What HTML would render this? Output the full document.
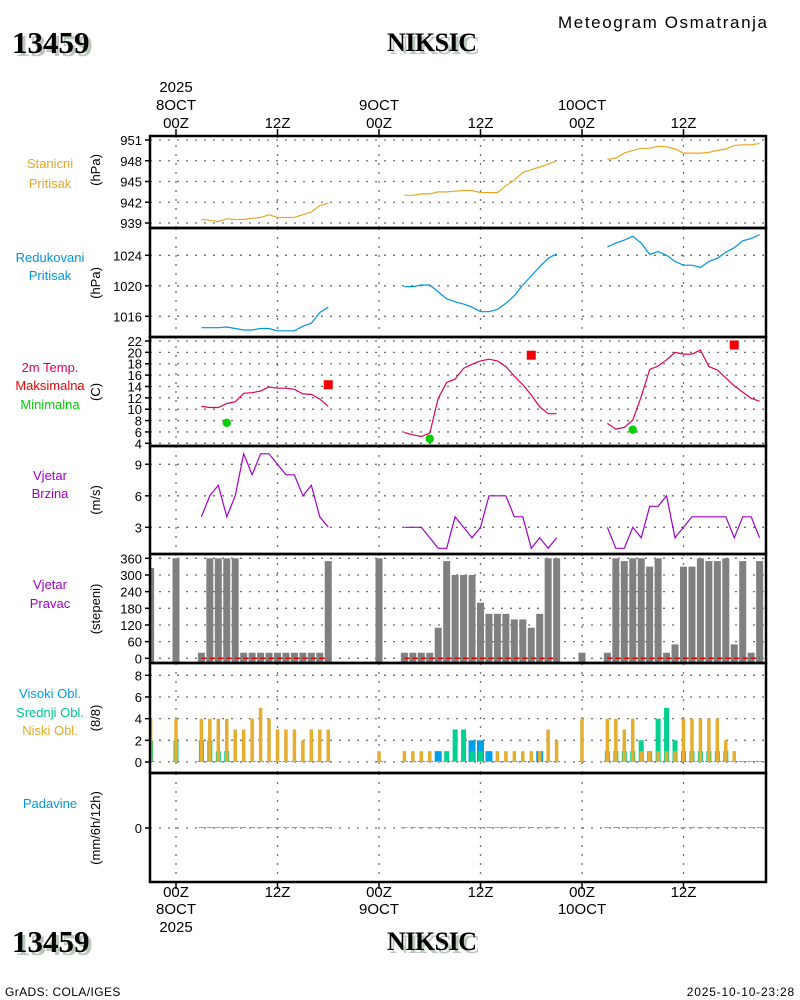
<!DOCTYPE html>
<html><head><meta charset="utf-8"><title>Meteogram NIKSIC</title>
<style>
body{margin:0;background:#fff;}
#wrap{position:relative;width:800px;height:1000px;overflow:hidden;background:#fff;font-family:"Liberation Sans",sans-serif;}
.t{position:absolute;white-space:nowrap;}
.big{font-family:"Liberation Serif",serif;font-weight:bold;font-size:27px;color:#000;text-shadow:3px 3px 0 #b9c8b9;}
</style></head><body>
<div id="wrap">
<div class="t" style="left:558px;top:13px;font-size:17px;letter-spacing:1.6px;">Meteogram Osmatranja</div>
<div class="t big" style="left:12px;top:25px;font-size:31px;">13459</div>
<div class="t big" style="left:387px;top:28px;font-size:26px;letter-spacing:-0.5px;">NIKSIC</div>
<div class="t big" style="left:12px;top:924px;font-size:31px;">13459</div>
<div class="t big" style="left:387px;top:927px;font-size:26px;letter-spacing:-0.5px;">NIKSIC</div>
<div class="t" style="left:5px;top:985px;font-size:12px;letter-spacing:0.4px;">GrADS: COLA/IGES</div>
<div class="t" style="right:5px;top:985px;font-size:12px;letter-spacing:0.8px;">2025-10-10-23:28</div>
<svg id="chart" width="800" height="1000" style="position:absolute;left:0;top:0;" xmlns="http://www.w3.org/2000/svg"></svg>
</div>
<script>
const N = null;
const hourStart = -3;
const stnPressure = [N,N,N,N,N,N,
 939.5,939.4,939.2,939.6,939.5,939.5,939.7,939.8,940.2,939.8,939.8,939.8,940.2,940.6,941.5,941.9,
 N,N,N,N,N,N,N,N,
 943.0,943.0,943.2,943.2,943.5,943.5,943.6,943.7,943.7,943.4,943.4,943.4,944.4,945.2,946.3,946.7,947.1,947.5,948.0,
 N,N,N,N,N,
 948.2,948.4,949.1,949.5,949.8,949.8,950.1,950.0,949.7,949.1,949.1,949.1,949.2,949.5,949.7,950.2,950.3,950.3,950.5];
const redPressure = [N,N,N,N,N,N,
 1014.5,1014.5,1014.5,1014.6,1014.4,1014.2,1014.2,1014.4,1014.4,1014.1,1014.1,1014.1,1014.7,1015.1,1016.5,1017.2,
 N,N,N,N,N,N,N,N,
 1019.9,1019.9,1020.1,1020.1,1019.2,1018.3,1017.9,1017.6,1017.2,1016.6,1016.6,1016.9,1017.7,1018.7,1020.1,1021.3,1022.5,1023.6,1024.2,
 N,N,N,N,N,
 1025.1,1025.6,1026.0,1026.5,1025.6,1024.1,1024.5,1024.0,1023.2,1022.7,1022.7,1022.4,1023.2,1023.6,1024.4,1025.0,1025.9,1026.2,1026.7];
const temperature = [N,N,N,N,N,N,
 10.5,10.3,10.3,11.0,11.3,12.8,12.9,13.2,13.9,13.7,13.7,13.5,12.7,12.6,11.8,10.5,
 N,N,N,N,N,N,N,N,
 5.9,5.5,5.2,5.8,11.9,14.7,15.3,17.2,17.9,18.5,18.8,18.5,17.5,15.8,14.3,12.5,10.4,9.2,9.2,
 N,N,N,N,N,
 7.5,6.5,6.8,8.1,12.2,17.0,17.6,18.7,20.0,19.7,19.7,20.4,17.5,16.9,15.5,14.1,13.0,11.9,11.4];
const tMaxHours = [18, 42, 66];
const tMaxValues = [14.3, 19.5, 21.3];
const tMinHours = [6, 30, 54];
const tMinValues = [7.6, 4.8, 6.4];
const windSpeed = [N,N,N,N,N,N,
 4,6,7,4,6,10,8,10,10,9,8,8,6,7,4,3,
 N,N,N,N,N,N,N,N,
 3,3,3,2,1,1,4,3,2,3,6,6,6,4,4,1,2,1,2,
 N,N,N,N,N,
 3,1,1,3,2,5,5,6,2,3,4,4,4,4,4,2,4,4,2];
const windDir = [325,N,N,360,N,N,
 20,360,360,360,360,20,20,20,20,20,20,20,20,20,20,350,
 N,N,N,N,N,360,N,N,
 20,20,20,20,110,350,300,300,300,200,160,160,160,140,140,110,160,360,360,
 N,N,20,N,N,
 20,360,350,360,360,330,360,20,50,330,330,360,350,350,360,50,350,20,350];
const cloudLow = [4,N,N,4,N,N,
 4,4,4,4,3,3,4,5,4,3,3,3,2,3,3,3,
 N,N,N,N,N,1,N,N,
 1,1,1,1,0,0,0,0,0,0,0,1,1,1,1,1,1,3,2,
 N,N,4,N,N,
 4,4,3,4,1,1,1,1,1,4,4,4,4,4,2,1,0,0,0];
const cloudMid = [2,N,N,2,N,N,
 2,2,1,1,0,0,0,0,0,0,0,0,0,0,0,0,
 N,N,N,N,N,0,N,N,
 0,0,0,0,0,1,3,3,1,1,0,0,0,0,0,0,0,0,0,
 N,N,0,N,N,
 1,1,1,1,2,1,4,5,2,1,1,1,1,1,1,0,0,0,0];
const cloudHigh = [0,N,N,0,N,N,
 0,0,0,0,0,0,0,0,0,0,0,0,0,0,0,0,
 N,N,N,N,N,0,N,N,
 0,0,0,0,1,0,0,0,2,2,1,0,0,0,0,0,1,0,0,
 N,N,0,N,N,
 0,0,0,0,0,0,0,0,0,0,0,0,0,0,0,0,0,0,0];
const precip = [N,N,N,N,N,N,
 0,0,0,0,0,0,0,0,0,0,0,0,0,0,0,0,
 N,N,N,N,N,N,N,N,
 0,0,0,0,0,0,0,0,0,0,0,0,0,0,0,0,0,0,0,
 N,N,N,N,N,
 0,0,0,0,0,0,0,0,0,0,0,0,0,0,0,0,0,0,0];
const timeTickHours = [0,12,24,36,48,60];
const timeTickLabels = ["00Z","12Z","00Z","12Z","00Z","12Z"];
const dateLabels = ["8OCT","","9OCT","","10OCT",""];
const ticksStn = [939,942,945,948,951];
const ticksRed = [1016,1020,1024];
const ticksTemp = [4,6,8,10,12,14,16,18,20,22];
const ticksWind = [3,6,9];
const ticksDir = [0,60,120,180,240,300,360];
const ticksCloud = [0,2,4,6,8];
const ticksPrecip = [0];

const svg = document.getElementById('chart');
const NS = 'http://www.w3.org/2000/svg';
const X0 = 150, X1 = 766;
function xH(h){ return 176 + h * 101.5 / 12; }
function lin(v0, y0, v1, y1){ return v => y0 + (v - v0) * (y1 - y0) / (v1 - v0); }
function el(tag, attrs, parent){
  const e = document.createElementNS(NS, tag);
  for (const k in attrs) e.setAttribute(k, attrs[k]);
  (parent || svg).appendChild(e);
  return e;
}
function txt(s, x, y, anchor, color, size, parent){
  const t = el('text', {x:x, y:y, 'text-anchor':anchor, fill:color, 'font-size':size, 'font-family':'Liberation Sans, sans-serif'}, parent);
  t.textContent = s;
  return t;
}

const panels = [
  {name:'station-pressure', top:136, bot:228, y:lin(939,223,951,140), ticks:ticksStn, labels:[['Stanicni',163],['Pritisak',183]], lc:'#e6a92a', unit:'(hPa)', uy:170},
  {name:'reduced-pressure', top:228, bot:337, y:lin(1016,316.3,1024,255.3), ticks:ticksRed, labels:[['Redukovani',257],['Pritisak',275]], lc:'#0096e0', unit:'(hPa)', uy:283},
  {name:'temperature', top:337, bot:446, y:lin(4,443.3,22,341), ticks:ticksTemp, labels:[['2m Temp.',367,'#e0005a'],['Maksimalna',385,'#f00000'],['Minimalna',404,'#00d000']], lc:'#e0005a', unit:'(C)', uy:392},
  {name:'wind-speed', top:446, bot:554, y:lin(3,527.3,9,464.3), ticks:ticksWind, labels:[['Vjetar',475],['Brzina',493]], lc:'#a000c8', unit:'(m/s)', uy:500},
  {name:'wind-direction', top:554, bot:663, y:lin(0,658.3,360,558.3), ticks:ticksDir, labels:[['Vjetar',584],['Pravac',603]], lc:'#a000c8', unit:'(stepeni)', uy:609},
  {name:'cloud-cover', top:663, bot:773, y:lin(0,762,8,675.3), ticks:ticksCloud, labels:[['Visoki Obl.',693,'#00a0e0'],['Srednji Obl.',712,'#00c890'],['Niski Obl.',730,'#e6a92a']], lc:'#000', unit:'(8/8)', uy:718},
  {name:'precipitation', top:773, bot:882, y:lin(0,828,1,818), ticks:ticksPrecip, labels:[['Padavine',803,'#0096e0']], lc:'#0096e0', unit:'(mm/6h/12h)', uy:828},
];

panels.forEach(p => {
  const g = el('g', {});
  
  
  p.g = g;
  p.ticks.forEach(v => {
    const y = p.y(v);
    const gl = el('line', {x1:X0, x2:X1, y1:y, y2:y, stroke:'#707070', 'stroke-width':1.3, 'stroke-dasharray':'2 7'}, g);
    
    
    el('line', {x1:X0-5, x2:X0, y1:y, y2:y, stroke:'#000', 'stroke-width':1.5}, g);
    const tl = txt(String(v), X0-8, y+5, 'end', '#000', 13, g);
    
    
  });
  timeTickHours.forEach(h => {
    const vl = el('line', {x1:xH(h), x2:xH(h), y1:p.top, y2:p.bot, stroke:'#707070', 'stroke-width':1.3, 'stroke-dasharray':'2 7'}, g);
    
    
  });
  p.labels.forEach(l => {
    const lt = txt(l[0], 50, l[1]+5, 'middle', l[2] || p.lc, 13, g);
    
    
  });
  const u = txt(p.unit, 0, 0, 'middle', '#000', 13, g);
  u.setAttribute('transform', 'translate(100,' + p.uy + ') rotate(-90)');
  
  
});

function drawLine(p, data, color, name){
  let d = '', pen = false;
  data.forEach((v, i) => {
    if (v === null) { pen = false; return; }
    const x = xH(i + hourStart), y = p.y(v);
    d += (pen ? 'L' : 'M') + x.toFixed(1) + ' ' + y.toFixed(1);
    pen = true;
  });
  const path = el('path', {d:d, fill:'none', stroke:color, 'stroke-width':1.2}, p.g);
  
  
}
drawLine(panels[0], stnPressure, '#e6a92a', 'station-pressure-line');
drawLine(panels[1], redPressure, '#0096e0', 'reduced-pressure-line');
drawLine(panels[2], temperature, '#e0005a', 'temperature-line');
drawLine(panels[3], windSpeed, '#a000c8', 'wind-speed-line');

tMaxHours.forEach((h, i) => {
  const r = el('rect', {x:xH(h)-4.5, y:panels[2].y(tMaxValues[i])-4.5, width:9, height:9, fill:'#f00000'}, panels[2].g);
  
  
});
tMinHours.forEach((h, i) => {
  const c = el('circle', {cx:xH(h), cy:panels[2].y(tMinValues[i]), r:4.2, fill:'#00d000'}, panels[2].g);
  
  
});

const pd = panels[4];
windDir.forEach((v, i) => {
  if (v === null) return;
  const x = xH(i + hourStart), y = pd.y(v);
  const x0 = Math.max(X0, x-3.5);
  const b = el('rect', {x:x0, y:y, width:(x+3.5)-x0, height:pd.bot-y, fill:'#808080'}, pd.g);
  
  
});
windSpeed.forEach((v, i) => {
  if (v === null) return;
  const x = xH(i + hourStart);
  const next = windSpeed[i+1];
  if (next === null || next === undefined) return;
  const dl = el('line', {x1:x, x2:xH(i+1+hourStart), y1:pd.y(0), y2:pd.y(0), stroke:'#f00000', 'stroke-width':1.5, 'stroke-dasharray':'5 3'}, pd.g);
  
  
});

const pc = panels[5];
function cloudBars(data, w, color, name){
  data.forEach((v, i) => {
    if (v === null) return;
    const x = xH(i + hourStart);
    const y = pc.y(v);
    const h = Math.max(1, pc.y(0) - y);
    const x0 = Math.max(X0, x - w/2);
    const b = el('rect', {x:x0, y:pc.y(0)-h, width:(x+w/2)-x0, height:h, fill:color}, pc.g);
    
    
  });
}
cloudBars(cloudHigh, 7, '#00a0e8', 'high-cloud-bar');
cloudBars(cloudMid, 5, '#00d090', 'mid-cloud-bar');
cloudBars(cloudLow, 3.5, '#e6ad2e', 'low-cloud-bar');

const pp = panels[6];
precip.forEach((v, i) => {
  if (v === null) return;
  const x = xH(i + hourStart);
  const b = el('rect', {x:x-3, y:pp.y(v)-1, width:6, height:Math.max(1, pp.y(0)-pp.y(v)), fill:'#a0a0a0'}, pp.g);
  
  
});

panels.forEach(p => {
  const f = el('rect', {x:X0, y:p.top, width:X1-X0, height:p.bot-p.top, fill:'none', stroke:'#000', 'stroke-width':2.5});
  
  
});

timeTickHours.forEach((h, i) => {
  const x = xH(h);
  el('line', {x1:x, x2:x, y1:129, y2:136, stroke:'#000', 'stroke-width':1.5});
  el('line', {x1:x, x2:x, y1:882, y2:889, stroke:'#000', 'stroke-width':1.5});
  const a = txt(timeTickLabels[i], x, 128, 'middle', '#000', 15);
  
  
  const b = txt(timeTickLabels[i], x, 897, 'middle', '#000', 15);
  
  
  if (dateLabels[i]) {
    const c = txt(dateLabels[i], x, 110, 'middle', '#000', 15);
    
    
    const d = txt(dateLabels[i], x, 914, 'middle', '#000', 15);
    
    
  }
});
const y1 = txt('2025', xH(0), 92, 'middle', '#000', 15);


const y2 = txt('2025', xH(0), 932, 'middle', '#000', 15);


</script>
</body></html>
